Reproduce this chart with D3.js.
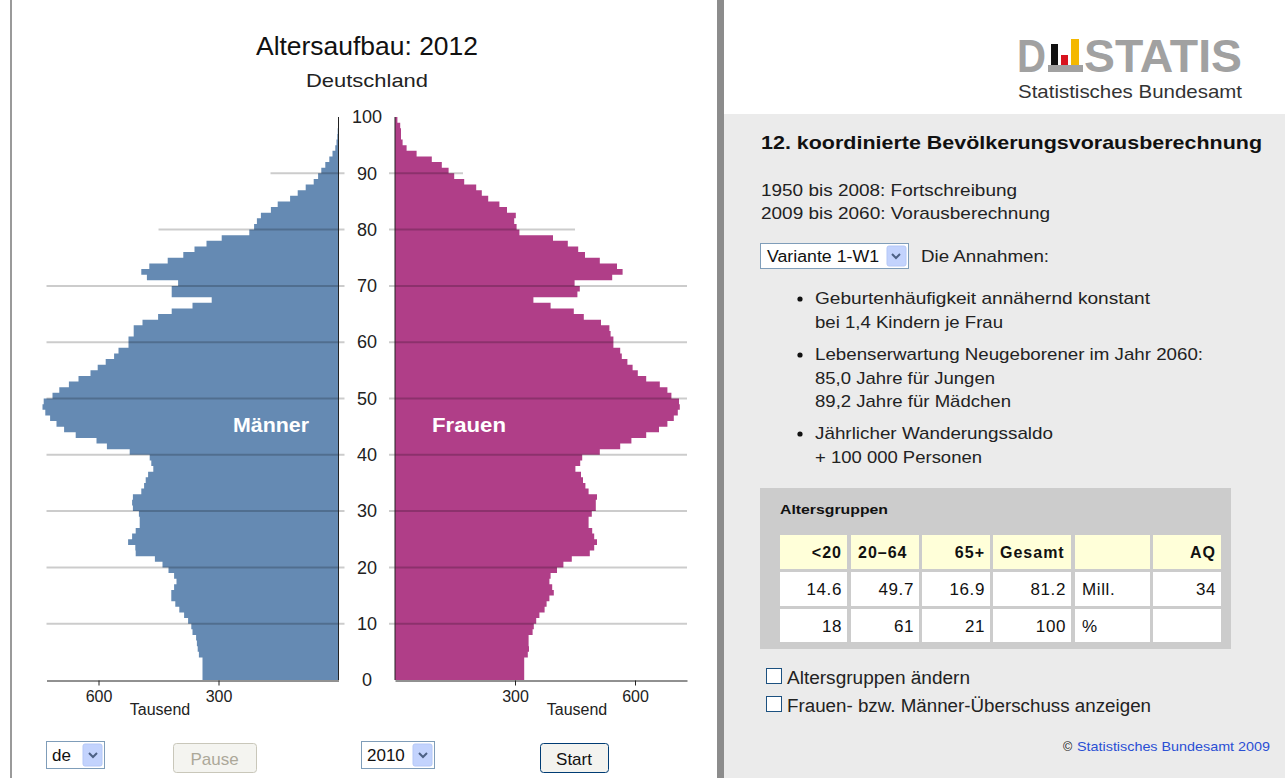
<!DOCTYPE html>
<html>
<head>
<meta charset="utf-8">
<script src="https://cdn.jsdelivr.net/npm/d3@7"></script>
<style>
  body { margin: 0; background: #fff; }
  svg { display: block; font-family: "Liberation Sans", Arial, sans-serif; }
  .narrow { font-family: "Liberation Sans Narrow", "Liberation Sans", Arial, sans-serif; }
</style>
</head>
<body>
<div id="chart"></div>
<script>
// Bevölkerung in Tausend je Altersjahr 0..99
const ages = d3.range(0, 100);
const maenner = [340, 340, 340, 340, 349, 352, 354, 356, 365, 368,
  376, 386, 398, 408, 418, 418, 411, 405, 411, 425,
  440, 459, 507, 508, 526, 516, 507, 497, 497, 499,
  514, 516, 514, 493, 486, 482, 476, 463, 468, 472,
  522, 579, 605, 657, 686, 705, 721, 733, 740, 737,
  715, 698, 674, 650, 620, 602, 582, 561, 550, 525,
  525, 512, 512, 490, 451, 417, 365, 317, 417, 417,
  401, 479, 493, 473, 427, 388, 360, 330, 292, 223,
  211, 204, 194, 169, 152, 121, 102, 82, 62, 51,
  43, 33, 23, 15, 8, 5, 3, 2, 1, 1];
const frauen = [323, 323, 323, 323, 332, 335, 334, 334, 344, 347,
  353, 361, 374, 379, 386, 397, 393, 386, 389, 405,
  421, 442, 487, 498, 505, 498, 493, 484, 484, 492,
  502, 502, 505, 484, 476, 470, 465, 451, 463, 468,
  512, 563, 591, 628, 660, 681, 697, 707, 712, 710,
  691, 681, 662, 628, 607, 594, 581, 567, 563, 546,
  546, 539, 536, 515, 472, 447, 389, 346, 456, 462,
  449, 543, 569, 555, 512, 475, 458, 432, 395, 311,
  304, 298, 302, 280, 261, 233, 217, 203, 173, 148,
  134, 117, 92, 54, 29, 19, 15, 15, 13, 6];

const ageTicks = d3.range(0, 101, 10);
const xTicks = [300, 600];
// Länge der Gitterlinien in Tausend (oben kürzer)
const gridAges = [10, 20, 30, 40, 50, 60, 70, 80, 90];
const gridLen = [730, 730, 730, 730, 730, 730, 730, 450, 170];

const tableHeader = ["<20", "20–64", "65+", "Gesamt", "", "AQ"];
const rowMill = ["14.6", "49.7", "16.9", "81.2", "Mill.", "34"];
const rowPct = ["18", "61", "21", "100", "%", ""];

const annahmen = [
  ["Geburtenhäufigkeit annähernd konstant", "bei 1,4 Kindern je Frau"],
  ["Lebenserwartung Neugeborener im Jahr 2060:", "85,0 Jahre für Jungen", "89,2 Jahre für Mädchen"],
  ["Jährlicher Wanderungssaldo", "+ 100 000 Personen"]
];
// gemessene Textbreiten (px) der Zeilen oben
const annahmenW = [[335, 188], [388, 180, 196], [238, 167]];

const blue = "#658ab3";
const magenta = "#b03e88";

const svg = d3.select("#chart").append("svg")
  .attr("width", 1285)
  .attr("height", 778);

// scales
const y = d3.scaleLinear().domain([0, 100]).range([680, 117]);
const xL = d3.scaleLinear().domain([0, 730]).range([338.5, 46.5]);
const xR = d3.scaleLinear().domain([0, 730]).range([395, 687]);

// helper for text with a fixed width
function txt(x, yy, t, size, w, opts = {}) {
  const el = svg.append("text").attr("x", x).attr("y", yy)
    .attr("font-size", size).attr("fill", opts.fill || "#222").text(t);
  if (w) el.attr("textLength", w).attr("lengthAdjust", "spacingAndGlyphs");
  if (opts.bold) el.attr("font-weight", "bold");
  if (opts.anchor) el.attr("text-anchor", opts.anchor);
  if (opts.cls) el.attr("class", opts.cls);
  return el;
}

// ---------- left panel frame ----------
svg.append("rect").attr("x", 10).attr("y", 0).attr("width", 2).attr("height", 778).attr("fill", "#9a9a9a");
svg.append("rect").attr("x", 717).attr("y", 0).attr("width", 7).attr("height", 778).attr("fill", "#8c8c8c");

txt(256, 55, "Altersaufbau: 2012", 25, 222, { fill: "#111" });
txt(306, 87, "Deutschland", 19, 122);

// bars as stepped areas: value of age a holds between y(a) and y(a+1)
const pts = ages.concat([100]);
const areaL = d3.area()
  .y(a => y(a))
  .x0(xL(0))
  .x1(a => xL(maenner[Math.min(a, 99)]))
  .curve(d3.curveStepBefore);
const areaR = d3.area()
  .y(a => y(a))
  .x0(xR(0))
  .x1(a => xR(frauen[Math.min(a, 99)]))
  .curve(d3.curveStepBefore);

const chart = svg.append("g");
chart.append("path").datum(pts).attr("d", areaL).attr("fill", blue);
chart.append("path").datum(pts).attr("d", areaR).attr("fill", magenta);

// grid lines over the bars
gridAges.forEach((a, i) => {
  chart.append("line")
    .attr("x1", xL(gridLen[i])).attr("x2", xL(0) + 6)
    .attr("y1", y(a)).attr("y2", y(a))
    .attr("stroke", "rgba(0,0,0,0.2)").attr("stroke-width", 2);
  chart.append("line")
    .attr("x1", xR(0) - 6).attr("x2", xR(gridLen[i]))
    .attr("y1", y(a)).attr("y2", y(a))
    .attr("stroke", "rgba(0,0,0,0.2)").attr("stroke-width", 2);
});

// zero lines
chart.append("line").attr("x1", xL(0)).attr("x2", xL(0)).attr("y1", y(100)).attr("y2", y(0))
  .attr("stroke", "#222").attr("stroke-width", 1);
chart.append("line").attr("x1", xR(0)).attr("x2", xR(0)).attr("y1", y(100)).attr("y2", y(0))
  .attr("stroke", "#222").attr("stroke-width", 1);

// age labels in the middle
const yAxis = svg.append("g").attr("class", "narrow")
  .attr("transform", "translate(367,0)")
  .call(d3.axisRight(y).tickValues(ageTicks).tickSize(0).tickPadding(0));
yAxis.select(".domain").remove();
yAxis.selectAll("text").attr("text-anchor", "middle").attr("x", 0)
  .attr("font-size", 18).attr("fill", "#222").attr("font-family", null);

// bottom axes
function styleX(g) {
  g.select(".domain").attr("stroke", "#222");
  g.selectAll(".tick line").attr("stroke", "#222");
  g.selectAll(".tick text").attr("font-size", 16).attr("fill", "#222")
    .attr("font-family", null).attr("y", 10);
}
svg.append("g").attr("class", "narrow").attr("transform", "translate(0,680.5)")
  .call(d3.axisBottom(xL).tickValues(xTicks).tickSize(5).tickSizeOuter(0))
  .call(styleX);
svg.append("g").attr("class", "narrow").attr("transform", "translate(0,680.5)")
  .call(d3.axisBottom(xR).tickValues(xTicks).tickSize(5).tickSizeOuter(0))
  .call(styleX);

txt(160, 715, "Tausend", 16, null, { anchor: "middle", cls: "narrow" });
txt(577, 715, "Tausend", 16, null, { anchor: "middle", cls: "narrow" });

txt(233, 432, "Männer", 20, 76, { bold: true, fill: "#fff" });
txt(432, 432, "Frauen", 20, 74, { bold: true, fill: "#fff" });

// ---------- form controls ----------
function selectBox(x, w, label) {
  const g = svg.append("g");
  g.append("rect").attr("x", x + 0.5).attr("y", 741.5).attr("width", w).attr("height", 27)
    .attr("fill", "#fff").attr("stroke", "#7f9db9");
  g.append("rect").attr("x", x + w - 21).attr("y", 744).attr("width", 19).attr("height", 22).attr("rx", 2)
    .attr("fill", "#c3d3fd").attr("stroke", "#b5c8f7");
  g.append("path")
    .attr("d", `M${x + w - 15},753 l4,4 l4,-4`)
    .attr("fill", "none").attr("stroke", "#4d6185").attr("stroke-width", 2);
  g.append("text").attr("class", "narrow").attr("x", x + 6).attr("y", 761)
    .attr("font-size", 17).attr("fill", "#111").text(label);
}
function button(x, w, label, enabled) {
  const g = svg.append("g");
  g.append("rect").attr("x", x + 0.5).attr("y", 743.5).attr("width", w).attr("height", 29).attr("rx", 3)
    .attr("fill", enabled ? "#f3f3ef" : "#f4f4f0")
    .attr("stroke", enabled ? "#003c74" : "#c9c7ba");
  g.append("text").attr("class", "narrow").attr("x", x + w / 2).attr("y", 765).attr("text-anchor", "middle")
    .attr("font-size", 17).attr("fill", enabled ? "#111" : "#aca899").text(label);
}
selectBox(46, 58, "de");
button(173, 83, "Pause", false);
selectBox(361, 73, "2010");
button(540, 68, "Start", true);

// ---------- right panel ----------
svg.append("rect").attr("x", 724).attr("y", 114).attr("width", 561).attr("height", 664).attr("fill", "#ebebeb");

// logo
const logoGray = "#a1a1a1";
txt(1017, 72, "D", 46, 29, { bold: true, fill: logoGray });
svg.append("rect").attr("x", 1048).attr("y", 65).attr("width", 35).attr("height", 7).attr("fill", logoGray);
svg.append("rect").attr("x", 1051).attr("y", 44).attr("width", 7).attr("height", 21).attr("fill", "#111");
svg.append("rect").attr("x", 1061).attr("y", 55).attr("width", 7).attr("height", 10).attr("fill", "#d8131e");
svg.append("rect").attr("x", 1071).attr("y", 39).attr("width", 8).attr("height", 26).attr("fill", "#f4b800");
txt(1084, 72, "STATIS", 46, 158, { bold: true, fill: logoGray });
txt(1018, 98, "Statistisches Bundesamt", 19, 224, { fill: "#333" });

txt(761, 149, "12. koordinierte Bevölkerungsvorausberechnung", 19, 501, { bold: true, fill: "#111" });

txt(761, 196, "1950 bis 2008: Fortschreibung", 17, 256);
txt(761, 219, "2009 bis 2060: Vorausberechnung", 17, 289);

// Variante select
svg.append("rect").attr("x", 760.5).attr("y", 243.5).attr("width", 148).attr("height", 25)
  .attr("fill", "#fff").attr("stroke", "#7f9db9");
svg.append("rect").attr("x", 887).attr("y", 246).attr("width", 19).attr("height", 20).attr("rx", 2)
  .attr("fill", "#c3d3fd").attr("stroke", "#b5c8f7");
svg.append("path").attr("d", "M892,254 l4,4 l4,-4").attr("fill", "none")
  .attr("stroke", "#4d6185").attr("stroke-width", 2);
txt(767, 262, "Variante 1-W1", 16, 112, { fill: "#111" });
txt(921, 262, "Die Annahmen:", 17, 128);

// bullets
const bulletTop = [304, 360, 439];
annahmen.forEach((lines, i) => {
  svg.append("circle").attr("cx", 800).attr("cy", bulletTop[i] - 5).attr("r", 2.6).attr("fill", "#111");
  lines.forEach((t, j) => {
    txt(815, bulletTop[i] + j * 23.5, t, 17, annahmenW[i][j]);
  });
});

// Altersgruppen box
svg.append("rect").attr("x", 760).attr("y", 488).attr("width", 471).attr("height", 161).attr("fill", "#cccccc");
txt(780, 514, "Altersgruppen", 13.5, 108, { bold: true, fill: "#111" });

const colX = [780, 851, 922, 993, 1075, 1153];
const colW = [67, 68, 68, 78, 75, 68];
const rowY = [535, 572, 609];
const rowH = [34, 34, 33];
const leftCols = [false, true, false, true, true, false];
const rows = [tableHeader, rowMill, rowPct];
rows.forEach((row, r) => {
  row.forEach((v, c) => {
    svg.append("rect").attr("x", colX[c]).attr("y", rowY[r]).attr("width", colW[c]).attr("height", rowH[r])
      .attr("fill", r === 0 ? "#ffffd9" : "#fff");
    const left = r === 0 ? leftCols[c] : c === 4;
    svg.append("text")
      .attr("x", left ? colX[c] + 7 : colX[c] + colW[c] - 5)
      .attr("y", rowY[r] + 23)
      .attr("text-anchor", left ? "start" : "end")
      .attr("font-size", r === 0 ? 16 : 17)
      .attr("font-weight", r === 0 ? "bold" : "normal")
      .attr("fill", "#111")
      .attr("letter-spacing", r === 0 ? 1 : 0.6)
      .text(v);
  });
});

// checkboxes
const checks = ["Altersgruppen ändern", "Frauen- bzw. Männer-Überschuss anzeigen"];
const checksW = [183, 364];
checks.forEach((t, i) => {
  svg.append("rect").attr("x", 766.5).attr("y", 668.5 + i * 28).attr("width", 15).attr("height", 15)
    .attr("fill", "#fff").attr("stroke", "#1c5180").attr("stroke-width", 1);
  txt(787, 684 + i * 28, t, 18, checksW[i]);
});

txt(1063, 751, "©", 12.5, null, { fill: "#111" });
txt(1077, 751, "Statistisches Bundesamt 2009", 13, 193, { fill: "#2a4fd4" });
</script>
</body>
</html>
